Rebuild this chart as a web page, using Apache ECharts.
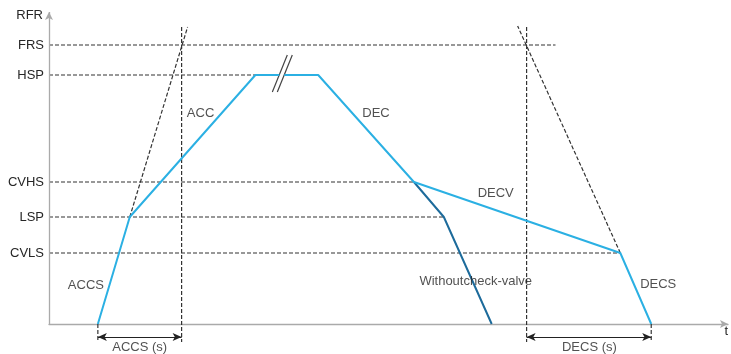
<!DOCTYPE html>
<html>
<head>
<meta charset="utf-8">
<script src="https://cdn.jsdelivr.net/npm/echarts@6/dist/echarts.min.js"></script>
<style>
  html, body { margin: 0; padding: 0; background: #fff; }
  #chart { width: 731px; height: 354px; }
</style>
</head>
<body>
<div id="chart"></div>
<script>
// reference levels on the RFR axis (same units as the profile)
const levelNames = ['FRS', 'HSP', 'CVHS', 'LSP', 'CVLS'];
const levelValues = [279, 249, 142, 107, 71];
const levelEnds = [508, 207, 366, 396, 573];   // time where each dashed guide stops

// speed profile, split at the "//" break
const profileA = [[49, 0], [81, 107], [207, 249], [231, 249]];
const profileB = [[236, 249], [270, 249], [366, 142], [573, 71], [604, 0]];
// decel without check valve
const noCheck = [[366, 142], [396, 107], [444, 0]];

const breakMarks = [[[224, 232], [239, 269]], [[229, 232], [244, 269]]];
const ramps = [[[81, 107], [139, 297]], [[573, 71], [470, 298]]];
const verticals = [[133, 297, -18], [479, 297, -18], [49, 0, -18], [604, 0, -18]];
const spans = [[49, 133, -13], [479, 604, -13]];

const notes = [
  [152, 211, 'ACC'],
  [328, 211, 'DEC'],
  [448, 131, 'DECV'],
  [37, 39, 'ACCS'],
  [428, 43, 'Withoutcheck-valve'],
  [611, 40, 'DECS'],
  [91, -23, 'ACCS (s)'],
  [542, -23, 'DECS (s)']
];

const xMax = 681, yMin = -30, yMax = 312;
const blue = '#2bb0e3', darkBlue = '#1d6b9b', dash = '#333', txt = '#262626';
const font = 'Liberation Sans, Arial, sans-serif';

const dashStyle = { color: dash, width: 1.2, type: [4, 2] };
const series = [];

levelValues.forEach((v, i) => {
  series.push({
    type: 'line', symbol: 'none', silent: true,
    data: [[0, v], [levelEnds[i], v]],
    lineStyle: dashStyle, z: 2
  });
});
verticals.forEach(d => {
  series.push({
    type: 'line', symbol: 'none', silent: true,
    data: [[d[0], d[1]], [d[0], d[2]]],
    lineStyle: dashStyle, z: 2
  });
});
ramps.forEach(d => {
  series.push({
    type: 'line', symbol: 'none', silent: true,
    data: d, lineStyle: dashStyle, z: 2
  });
});
breakMarks.forEach(d => {
  series.push({
    type: 'line', symbol: 'none', silent: true,
    data: d, lineStyle: { color: '#444', width: 1.2 }, z: 4
  });
});

series.push({
  type: 'line', symbol: 'none', silent: true, data: noCheck,
  lineStyle: { color: darkBlue, width: 2 }, z: 3
});
[profileA, profileB].forEach(d => {
  series.push({
    type: 'line', symbol: 'none', silent: true, data: d,
    lineStyle: { color: blue, width: 2 }, z: 5
  });
});

// y axis line with arrow, and the two dimension arrows
series.push({
  type: 'line', symbol: 'none', silent: true, data: [],
  markLine: {
    silent: true, animation: false,
    label: { show: false },
    emphasis: { disabled: true },
    data: [
      [{ coord: [0, 0], symbol: 'none', lineStyle: { color: '#aaa', width: 1.3, type: 'solid' } },
       { coord: [0, yMax], symbol: 'arrow', symbolSize: [6, 8] }]
    ].concat(spans.map(s => [
      { coord: [s[0], s[2]], symbol: 'arrow', symbolSize: [6, 9], lineStyle: { color: '#222', width: 1, type: 'solid' } },
      { coord: [s[1], s[2]], symbol: 'arrow', symbolSize: [6, 9] }
    ])),
    symbol: ['arrow', 'arrow']
  }
});

series.push({
  type: 'scatter', symbolSize: 0, silent: true, z: 10,
  data: notes.map(n => ({ value: [n[0], n[1]], name: n[2] })),
  label: {
    show: true, position: [0, 0], align: 'center', verticalAlign: 'middle',
    formatter: p => p.name, color: txt, fontSize: 13, fontFamily: font
  }
});

const chart = echarts.init(document.getElementById('chart'));
chart.setOption({
  animation: false,
  grid: { left: 49, top: 12, width: xMax, bottom: 0, containLabel: false },
  xAxis: {
    type: 'value', min: 0, max: xMax,
    name: 't', nameLocation: 'end', nameGap: 0,
    nameTextStyle: { color: txt, fontSize: 13, fontFamily: font, align: 'right', verticalAlign: 'top', padding: [1, 0, 0, 0] },
    axisLine: { onZero: true, lineStyle: { color: '#aaa', width: 1.3 }, symbol: ['none', 'arrow'], symbolSize: [6, 8] },
    axisTick: { show: false }, axisLabel: { show: false }, splitLine: { show: false }
  },
  yAxis: {
    type: 'value', min: yMin, max: yMax,
    name: 'RFR', nameLocation: 'end', nameGap: -3,
    nameTextStyle: { color: txt, fontSize: 13, fontFamily: font, align: 'right', verticalAlign: 'middle', padding: [0, 6, 0, 0] },
    axisLine: { show: false }, axisTick: { show: false }, splitLine: { show: false },
    axisLabel: {
      customValues: levelValues, margin: 5,
      formatter: v => levelNames[levelValues.indexOf(v)],
      color: txt, fontSize: 13, fontFamily: font
    }
  },
  series: series
});
</script>
</body>
</html>
